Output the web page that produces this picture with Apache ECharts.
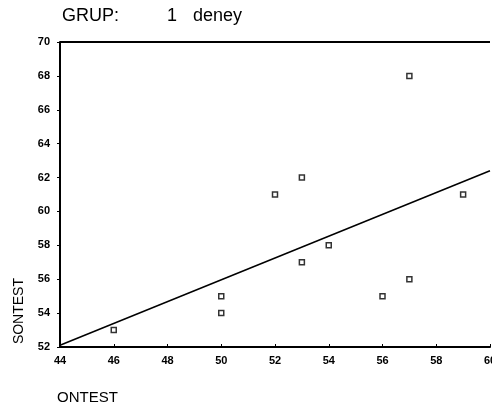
<!DOCTYPE html>
<html>
<head>
<meta charset="utf-8">
<script src="https://cdn.jsdelivr.net/npm/echarts@6/dist/echarts.min.js"></script>
<style>
  html, body { margin: 0; padding: 0; background: #fff; }
  #chart { width: 492px; height: 410px; }
</style>
</head>
<body>
<div id="chart"></div>
<script>
// ONTEST / SONTEST values
const ontest = [46, 50, 50, 52, 53, 53, 54, 56, 57, 57, 59];
const sontest = [53, 55, 54, 61, 62, 57, 58, 55, 56, 68, 61];
// fitted line end points
const fitX = [44, 60];
const fitY = [52.1, 62.4];

var chart = echarts.init(document.getElementById('chart'));

var points = ontest.map(function (x, i) { return [x, sontest[i]]; });
var fitLine = fitX.map(function (x, i) { return [x, fitY[i]]; });

var font = 'Liberation Sans, Arial, sans-serif';
var tickFont = {
  color: '#000',
  fontSize: 11,
  fontWeight: 'bold',
  fontFamily: font
};
var titleFont = { fontSize: 18, fontWeight: 'normal', color: '#000', fontFamily: font };

var option = {
  animation: false,
  backgroundColor: '#fff',
  title: [
    { text: 'GRUP:', left: 62, top: 7, padding: 0, textStyle: titleFont },
    { text: '1', left: 167, top: 7, padding: 0, textStyle: titleFont },
    { text: 'deney', left: 193, top: 7, padding: 0, textStyle: titleFont }
  ],
  graphic: [
    {
      type: 'text',
      left: 12,
      top: 278,
      rotation: Math.PI / 2,
      style: { text: 'SONTEST', fontSize: 14, fill: '#000', fontFamily: font }
    },
    {
      type: 'text',
      left: 57,
      top: 390,
      style: { text: 'ONTEST', fontSize: 15, fill: '#000', fontFamily: font }
    }
  ],
  grid: {
    left: 60,
    right: 2,
    top: 42,
    bottom: 63,
    containLabel: false,
    outerBoundsMode: 'none'
  },
  xAxis: {
    type: 'value',
    min: 44,
    max: 60,
    interval: 2,
    axisLine: { show: true, onZero: false, lineStyle: { color: '#000', width: 2 } },
    axisTick: { show: true, inside: true, length: 3, lineStyle: { color: '#000' } },
    splitLine: { show: false },
    axisLabel: Object.assign({ margin: 8, showMaxLabel: true, hideOverlap: false }, tickFont)
  },
  yAxis: {
    type: 'value',
    min: 52,
    max: 70,
    interval: 2,
    axisLine: { show: true, onZero: false, lineStyle: { color: '#000', width: 2 } },
    axisTick: { show: true, length: 3, lineStyle: { color: '#000' } },
    splitLine: { show: false },
    axisLabel: Object.assign({ margin: 10 }, tickFont)
  },
  series: [
    {
      type: 'line',
      data: fitLine,
      symbol: 'none',
      silent: true,
      lineStyle: { color: '#000', width: 1.5 },
      markLine: {
        silent: true,
        symbol: 'none',
        label: { show: false },
        lineStyle: { color: '#000', width: 2, type: 'solid' },
        data: [[{ coord: [44, 70] }, { coord: [60, 70] }]]
      }
    },
    {
      type: 'scatter',
      data: points,
      symbol: 'rect',
      symbolSize: 5,
      itemStyle: { color: '#fff', borderColor: '#000', borderWidth: 1.5 }
    }
  ]
};

chart.setOption(option);
</script>
</body>
</html>
